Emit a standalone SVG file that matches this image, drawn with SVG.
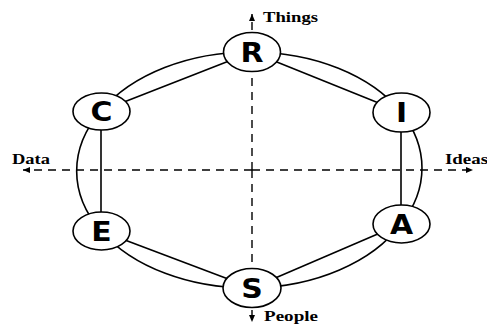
<svg xmlns="http://www.w3.org/2000/svg" width="487" height="325" viewBox="0 0 487 325">
<defs>
<marker id="ah" markerUnits="userSpaceOnUse" markerWidth="8" markerHeight="8" refX="7" refY="4" orient="auto">
<path d="M0,1 L7,4 L0,7 Z" fill="#000"/>
</marker>
<style>
.ax{stroke:#000;stroke-width:1.4;stroke-dasharray:8 6;fill:none;marker-end:url(#ah)}
.ln{stroke:#000;stroke-width:1.6;fill:none}
.nd ellipse{fill:#fff;stroke:#000;stroke-width:1.6}
.nd text{font-family:"DejaVu Sans",sans-serif;font-weight:bold;font-size:26px;text-anchor:middle;fill:#000}
.lb{font-family:"Liberation Serif",serif;font-weight:bold;font-size:15px;fill:#000}
</style>
</defs>
<rect width="487" height="325" fill="#fff"/>
<g id="axes">
<line class="ax" x1="252" y1="170" x2="252" y2="14"/>
<line class="ax" x1="252" y1="170" x2="252" y2="322"/>
<line class="ax" x1="252" y1="170" x2="23" y2="170"/>
<line class="ax" x1="252" y1="170" x2="473" y2="170"/>
</g>
<g id="connectors">
<path class="ln" d="M252,52 A172,117 0 0 1 401,112"/>
<path class="ln" d="M401,112 A172,117 0 0 1 401,224"/>
<path class="ln" d="M401,224 A172,117 0 0 1 252,288"/>
<path class="ln" d="M252,288 A172,117 0 0 1 101,231"/>
<path class="ln" d="M101,231 A172,117 0 0 1 101,111"/>
<path class="ln" d="M101,111 A172,117 0 0 1 252,52"/>
<line class="ln" x1="252" y1="52" x2="401" y2="112"/>
<line class="ln" x1="401" y1="112" x2="401" y2="224"/>
<line class="ln" x1="401" y1="224" x2="252" y2="288"/>
<line class="ln" x1="252" y1="288" x2="101" y2="231"/>
<line class="ln" x1="101" y1="231" x2="101" y2="111"/>
<line class="ln" x1="101" y1="111" x2="252" y2="52"/>
</g>
<g id="node-R" class="nd"><ellipse cx="252" cy="52" rx="28.5" ry="19.5"/><text transform="translate(252,61.5) scale(1.15,1)">R</text></g>
<g id="node-I" class="nd"><ellipse cx="401.5" cy="112.5" rx="28.5" ry="19.5"/><text transform="translate(401.5,122) scale(1.15,1)">I</text></g>
<g id="node-A" class="nd"><ellipse cx="401.5" cy="224" rx="28.5" ry="19"/><text transform="translate(401.5,233.5) scale(1.15,1)">A</text></g>
<g id="node-S" class="nd"><ellipse cx="252" cy="288" rx="29" ry="19.5"/><text transform="translate(252,297.5) scale(1.15,1)">S</text></g>
<g id="node-E" class="nd"><ellipse cx="101.5" cy="231" rx="28.5" ry="19"/><text transform="translate(101.5,240.5) scale(1.15,1)">E</text></g>
<g id="node-C" class="nd"><ellipse cx="101.5" cy="111.5" rx="28.5" ry="18.5"/><text transform="translate(101.5,121) scale(1.15,1)">C</text></g>
<g id="labels">
<text class="lb" x="263" y="22" textLength="55" lengthAdjust="spacingAndGlyphs">Things</text>
<text class="lb" x="12" y="164" textLength="38" lengthAdjust="spacingAndGlyphs">Data</text>
<text class="lb" x="445" y="163.5" textLength="43" lengthAdjust="spacingAndGlyphs">Ideas</text>
<text class="lb" x="264" y="320.5" textLength="54" lengthAdjust="spacingAndGlyphs">People</text>
</g>
</svg>
